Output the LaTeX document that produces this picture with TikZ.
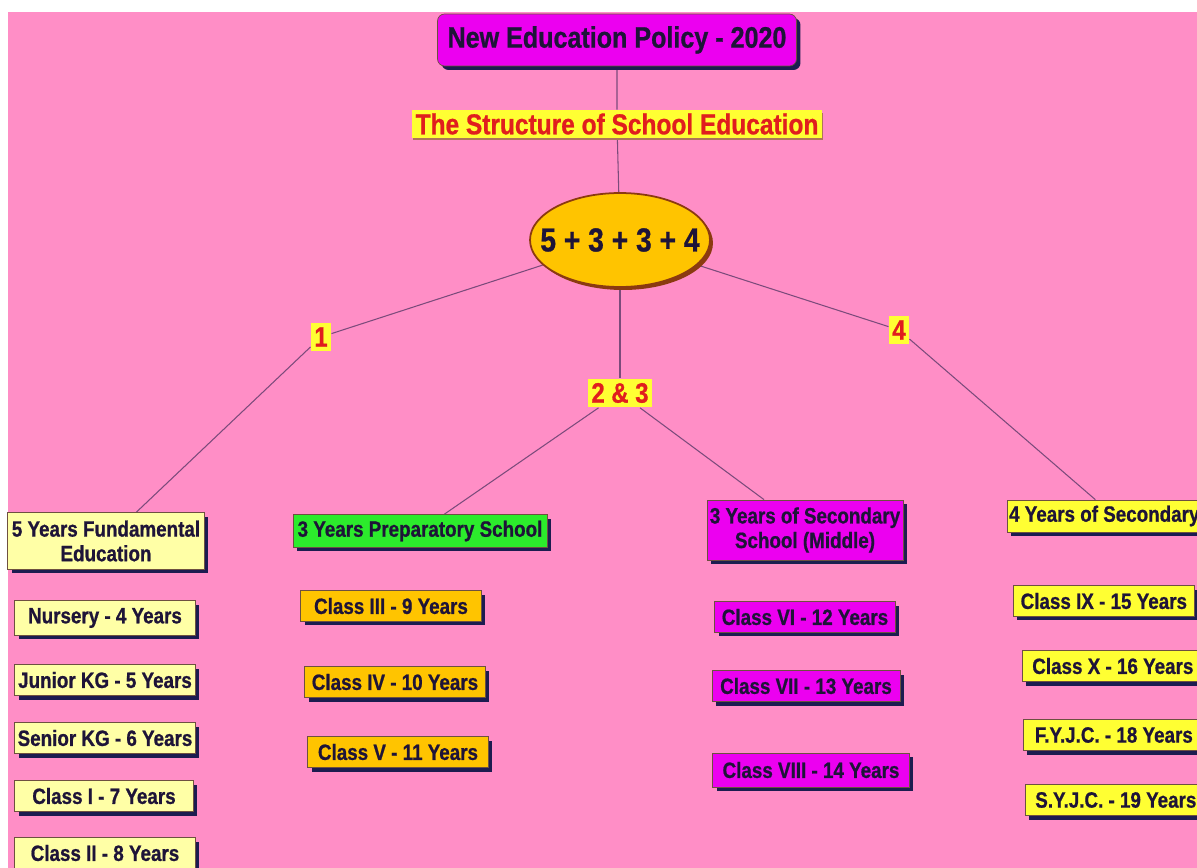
\documentclass[tikz,border=0pt]{standalone}
\usepackage{fontspec}
\setmainfont{Liberation Sans}[FakeStretch=0.85,BoldFeatures={FakeBold=0.8}]
\usetikzlibrary{shapes.geometric,shadows,backgrounds}
\definecolor{bgpink}{HTML}{FF8EC6}
\definecolor{magbox}{HTML}{EC00F0}
\definecolor{goldbox}{HTML}{FFC400}
\definecolor{paleyel}{HTML}{FFFFA6}
\definecolor{yelbox}{HTML}{FFFF33}
\definecolor{greenbox}{HTML}{2CEB2C}
\definecolor{navy}{HTML}{1C1C50}
\definecolor{ink}{HTML}{1E1438}
\definecolor{boxline}{HTML}{6E5040}
\definecolor{tagred}{HTML}{E01E1E}
\definecolor{linec}{HTML}{7B4B7B}
\definecolor{brownline}{HTML}{8B3A10}
\tikzset{
  boxshadow/.style={drop shadow={shadow xshift=0.08cm,shadow yshift=-0.08cm,fill=navy,opacity=1}},
  agebox/.style={draw=boxline,line width=0.4pt,boxshadow,text=ink,
    font=\fontsize{12.6}{14}\selectfont\bfseries,inner xsep=1pt,inner ysep=0pt,
    minimum height=0.62cm,minimum width=3.62cm},
  stagebox/.style={agebox,align=center},
  tag/.style={fill=yelbox,text=tagred,font=\fontsize{16}{18}\selectfont\bfseries,
    inner xsep=2pt,inner ysep=1pt,minimum height=0.58cm},
  link/.style={draw=linec,line width=0.6pt}
}

\begin{document}
\begin{tikzpicture}[x=0.02cm,y=-0.02cm]
  \useasboundingbox (0,0) rectangle (1197,868);
  \begin{scope}[on background layer]
    \fill[bgpink] (8,12) rectangle (1197,868);
  \end{scope}
  % title
  \node[agebox,fill=magbox,rounded corners=4pt,minimum width=7.18cm,minimum height=1.04cm,
    font=\fontsize{16.8}{18}\selectfont\bfseries] (nep) at (617,40) {New Education Policy - 2020};
  \node[tag,font=\fontsize{16.4}{18}\selectfont\bfseries,minimum height=0.56cm,
    drop shadow={shadow xshift=0.02cm,shadow yshift=-0.05cm,fill=brownline!70,opacity=1}]
    (sse) at (617,124) {The Structure of School Education};
  \node[ellipse,fill=goldbox,draw=brownline,line width=1pt,text=ink,
    drop shadow={shadow xshift=0.06cm,shadow yshift=-0.06cm,fill=brownline,opacity=1},
    minimum width=3.6cm,minimum height=1.88cm,inner sep=0pt,
    font=\fontsize{18.9}{20}\selectfont\bfseries] (sum) at (620,240) {\makebox[2.2cm]{5 + 3 + 3 + 4}};
  % stage tags
  \node[tag] (l1) at (321,337) {1};
  \node[tag] (l23) at (620,393) {2 \& 3};
  \node[tag] (l4) at (899,330) {4};
  % stages
  \node[stagebox,fill=paleyel,minimum width=3.94cm,minimum height=1.14cm] (fund) at (106,541)
    {5 Years Fundamental\\Education};
  \node[stagebox,fill=greenbox,minimum width=5.08cm,minimum height=0.66cm] (prep) at (420,531)
    {3 Years Preparatory School};
  \node[stagebox,fill=magbox,minimum width=3.92cm,minimum height=1.2cm] (mid) at (805,530)
    {3 Years of Secondary\\School (Middle)};
  \node[stagebox,fill=yelbox,anchor=west,minimum width=4cm,minimum height=0.64cm] (sec) at (1007,516)
    {4 Years of Secondary\hspace*{0.4cm}};
  % 1
  \node[agebox,fill=paleyel,minimum height=0.7cm] (f1) at (105,618) {Nursery - 4 Years};
  \node[agebox,fill=paleyel] (f2) at (105,680) {Junior KG - 5 Years};
  \node[agebox,fill=paleyel] (f3) at (105,738) {Senior KG - 6 Years};
  \node[agebox,fill=paleyel,minimum width=3.58cm] (f4) at (104,796) {Class I - 7 Years};
  \node[agebox,fill=paleyel] (f5) at (105,853) {Class II - 8 Years};
  % 2
  \node[agebox,fill=goldbox] (p1) at (391,606) {Class III - 9 Years};
  \node[agebox,fill=goldbox] (p2) at (395,682) {Class IV - 10 Years};
  \node[agebox,fill=goldbox] (p3) at (398,752) {Class V - 11 Years};
  % 3
  \node[agebox,fill=magbox] (m1) at (805,617) {Class VI - 12 Years};
  \node[agebox,fill=magbox,minimum width=3.76cm] (m2) at (806,686) {Class VII - 13 Years};
  \node[agebox,fill=magbox,minimum width=3.94cm,minimum height=0.68cm] (m3) at (811,770) {Class VIII - 14 Years};
  % 4
  \node[agebox,fill=yelbox,anchor=west] (s1) at (1013,601) {Class IX - 15 Years};
  \node[agebox,fill=yelbox,anchor=west] (s2) at (1022,666) {Class X - 16 Years};
  \node[agebox,fill=yelbox,anchor=west] (s3) at (1023,735) {F.Y.J.C. - 18 Years};
  \node[agebox,fill=yelbox,anchor=west] (s4) at (1025,800) {S.Y.J.C. - 19 Years};
  % connectors
  \begin{scope}[on background layer]
    \draw[link] (nep) -- (sse) -- (sum);
    \draw[link] (sum) -- (l1) -- (fund);
    \draw[link] (sum) -- (l23);
    \draw[link] (l23) -- (prep);
    \draw[link] (l23) -- (mid);
    \draw[link] (sum) -- (l4) -- (sec);
  \end{scope}
\end{tikzpicture}
\end{document}
